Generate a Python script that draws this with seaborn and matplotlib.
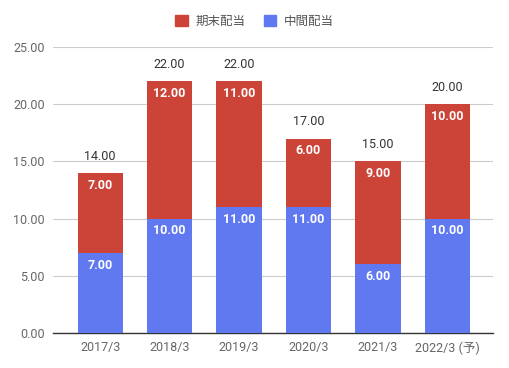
import pandas as pd
import numpy as np
import matplotlib
matplotlib.use('Agg')
import matplotlib.pyplot as plt
import seaborn as sns
from matplotlib.patches import Patch

# data
years = ['2017/3', '2018/3', '2019/3', '2020/3', '2021/3', '2022/3 (予)']
interim = [7, 10, 11, 11, 6, 10]      # 中間配当
year_end = [7, 12, 11, 6, 9, 10]      # 期末配当

blue = '#6079F0'
red = '#CC4438'

sns.set_theme(style='white')
plt.rcParams['font.family'] = ['Roboto', 'Noto Sans CJK JP', 'DejaVu Sans']

df = pd.DataFrame({'year': years, 'interim': interim, 'year_end': year_end})
df['total'] = df['interim'] + df['year_end']

fig = plt.figure(figsize=(5.09, 3.68), dpi=100)
ax = fig.add_axes([0.104, 0.095, 0.865, 0.777])

sns.barplot(data=df, x='year', y='total', color=red, width=0.65,
            saturation=1, linewidth=0, ax=ax, zorder=3)
sns.barplot(data=df, x='year', y='interim', color=blue, width=0.65,
            saturation=1, linewidth=0, ax=ax, zorder=3)

ax.set_ylim(0, 25)
ax.set_xlim(-0.68, 5.66)
ax.set_yticks(np.arange(0, 26, 5))
ax.set_yticklabels([f'{v:.2f}' for v in np.arange(0, 26, 5)])
ax.grid(axis='y', color='#cccccc', lw=0.8, zorder=0)
for s in ['left', 'right', 'top']:
    ax.spines[s].set_visible(False)
ax.spines['bottom'].set_color('#333333')
ax.spines['bottom'].set_linewidth(1)
ax.tick_params(axis='both', length=0, labelsize=9, colors='#666666', pad=6)
ax.set_xlabel('')
ax.set_ylabel('')

# labels
for i, row in df.iterrows():
    ax.text(i, row['interim'] - 0.5, f"{row['interim']:.2f}", ha='center', va='top',
            color='white', fontsize=9, fontweight='bold', zorder=5)
    ax.text(i, row['total'] - 0.5, f"{row['year_end']:.2f}", ha='center', va='top',
            color='white', fontsize=9, fontweight='bold', zorder=5)
    ax.text(i, row['total'] + 0.9, f"{row['total']:.2f}", ha='center', va='bottom',
            color='#333333', fontsize=9, zorder=5)

handles = [Patch(color=red, label='期末配当'), Patch(color=blue, label='中間配当')]
fig.legend(handles=handles, loc='upper center', bbox_to_anchor=(0.5, 0.99), ncol=2,
           frameon=False, fontsize=9, handlelength=1, handleheight=1,
           columnspacing=1.5, handletextpad=0.6, labelcolor='#555555')

fig.savefig('out.png', dpi=100)
